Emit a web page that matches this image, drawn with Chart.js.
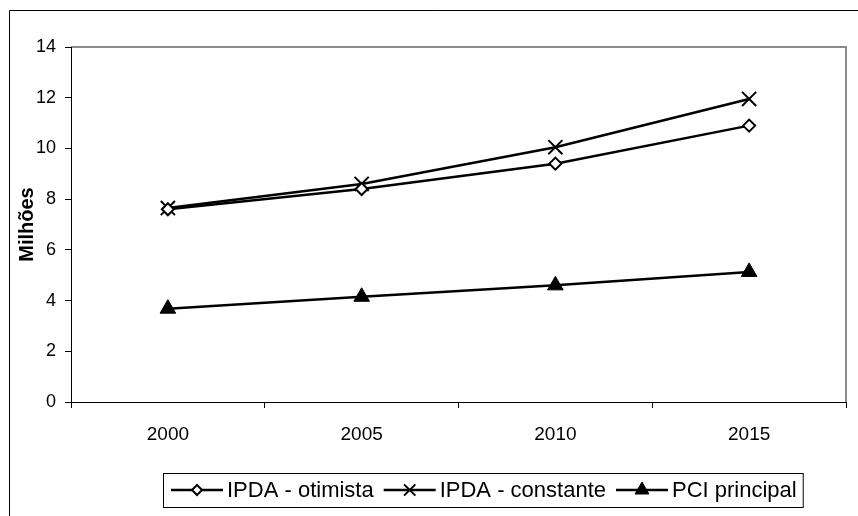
<!DOCTYPE html>
<html>
<head>
<meta charset="utf-8">
<script src="https://cdn.jsdelivr.net/npm/chart.js@4.4.0/dist/chart.umd.min.js"></script>
<style>
  html, body { margin: 0; padding: 0; background: #fff; }
</style>
</head>
<body>
<canvas id="chartCanvas" width="858" height="516"></canvas>
<script>

// data
var years = ['2000', '2005', '2010', '2015'];
var otimista = [7.6, 8.4, 9.4, 10.9];
var constante = [7.65, 8.6, 10.05, 11.95];
var pciPrincipal = [3.68, 4.15, 4.6, 5.13];
var yTicks = [0, 2, 4, 6, 8, 10, 12, 14];
var seriesNames = ['IPDA - otimista', 'IPDA - constante', 'PCI principal'];

var plainFont = '"Liberation Sans", Arial, sans-serif';

// outer frame + grey box round the plot
var framePlugin = {
  id: 'frame',
  beforeDraw: function (chart) {
    var ctx = chart.ctx;
    var a = chart.chartArea;
    ctx.save();
    ctx.fillStyle = '#fff';
    ctx.fillRect(0, 0, chart.width, chart.height);
    ctx.strokeStyle = '#000';
    ctx.lineWidth = 1;
    ctx.beginPath();
    ctx.moveTo(9.5, chart.height + 5);
    ctx.lineTo(9.5, 10.5);
    ctx.lineTo(chart.width + 5, 10.5);
    ctx.stroke();

    ctx.strokeStyle = '#8a8a8a';
    ctx.lineWidth = 2;
    ctx.beginPath();
    ctx.moveTo(a.left, a.top);
    ctx.lineTo(a.right, a.top);
    ctx.lineTo(a.right, a.bottom);
    ctx.stroke();
    ctx.restore();
  }
};

// legend in a box under the axis
var legendPlugin = {
  id: 'boxLegend',
  afterDraw: function (chart) {
    var ctx = chart.ctx;
    var top = 473, h = 34, left = 163;
    var mid = top + h / 2;
    var legendRadius = [5, 8, 8];
    ctx.save();
    ctx.font = '22px ' + plainFont;
    ctx.textBaseline = 'middle';
    ctx.textAlign = 'left';

    var x = left + 8;
    for (var i = 0; i < seriesNames.length; i++) {
      var ds = chart.data.datasets[i];
      ctx.strokeStyle = '#000';
      ctx.lineWidth = 2.5;
      ctx.beginPath();
      ctx.moveTo(x, mid);
      ctx.lineTo(x + 52, mid);
      ctx.stroke();

      ctx.fillStyle = ds.pointBackgroundColor;
      ctx.strokeStyle = '#000';
      ctx.lineWidth = ds.pointBorderWidth;
      Chart.helpers.drawPoint(ctx, {
        pointStyle: ds.pointStyle,
        radius: legendRadius[i],
        borderWidth: ds.pointBorderWidth,
        rotation: 0
      }, x + 26, mid);

      ctx.fillStyle = '#000';
      ctx.fillText(seriesNames[i], x + 56, mid + 1);
      x = x + 56 + ctx.measureText(seriesNames[i]).width + 10;
    }

    ctx.strokeStyle = '#000';
    ctx.lineWidth = 1;
    ctx.strokeRect(left + 0.5, top + 0.5, x - left - 4, h);
    ctx.restore();
  }
};

var ctx = document.getElementById('chartCanvas').getContext('2d');
var myChart = new Chart(ctx, {
  type: 'line',
  data: {
    labels: years,
    datasets: [
      {
        label: seriesNames[0],
        data: otimista,
        borderColor: '#000',
        borderWidth: 2.5,
        pointStyle: 'rectRot',
        pointRadius: 6,
        pointBorderWidth: 2,
        pointBackgroundColor: '#fff',
        pointBorderColor: '#000',
        tension: 0
      },
      {
        label: seriesNames[1],
        data: constante,
        borderColor: '#000',
        borderWidth: 2.5,
        pointStyle: 'crossRot',
        pointRadius: 10,
        pointBorderWidth: 2,
        pointBackgroundColor: '#000',
        pointBorderColor: '#000',
        tension: 0
      },
      {
        label: seriesNames[2],
        data: pciPrincipal,
        borderColor: '#000',
        borderWidth: 2.5,
        pointStyle: 'triangle',
        pointRadius: 9,
        pointBorderWidth: 1,
        pointBackgroundColor: '#000',
        pointBorderColor: '#000',
        tension: 0
      }
    ]
  },
  options: {
    responsive: false,
    devicePixelRatio: 1,
    animation: false,
    layout: { padding: { left: 0, right: 7, top: 47, bottom: 0 } },
    plugins: {
      legend: { display: false },
      tooltip: { enabled: false }
    },
    scales: {
      x: {
        offset: true,
        grid: { offset: true, drawOnChartArea: false, drawTicks: true, tickLength: 6, color: '#000' },
        border: { color: '#000', width: 1 },
        ticks: { color: '#000', font: { family: plainFont, size: 19 }, padding: 15, maxRotation: 0 },
        afterFit: function (scale) { scale.height = 114; }
      },
      y: {
        min: 0,
        max: 14,
        afterBuildTicks: function (scale) {
          scale.ticks = yTicks.map(function (v) { return { value: v }; });
        },
        grid: { drawOnChartArea: false, drawTicks: true, tickLength: 6, color: '#000' },
        border: { color: '#000', width: 1 },
        ticks: { color: '#000', font: { family: plainFont, size: 18 }, padding: 9 },
        title: {
          display: true,
          text: 'Milhões',
          color: '#000',
          font: { family: plainFont, size: 20, weight: 'bold' },
          padding: { top: 15, bottom: 0 }
        },
        afterFit: function (scale) { scale.width = 71; }
      }
    }
  },
  plugins: [framePlugin, legendPlugin]
});

</script>
</body>
</html>
